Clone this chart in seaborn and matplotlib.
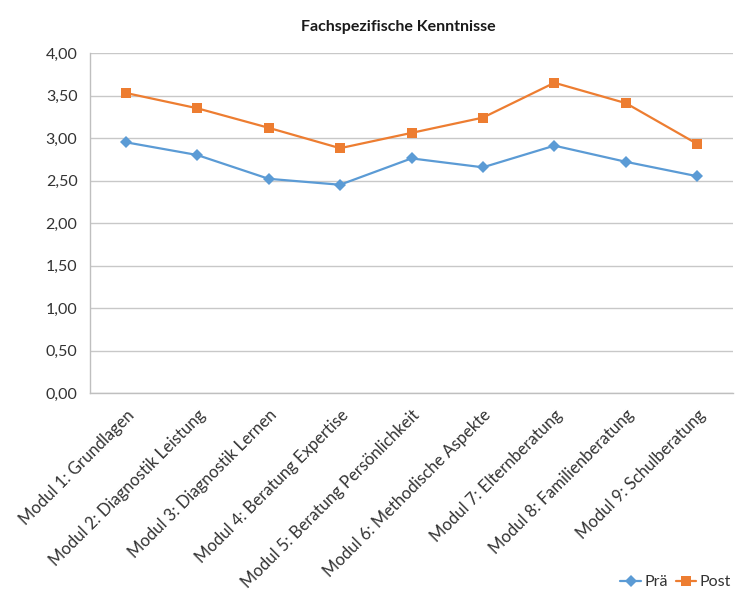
import numpy as np
import pandas as pd
import matplotlib
matplotlib.use("Agg")
import matplotlib.pyplot as plt
from matplotlib.ticker import FixedLocator, FuncFormatter, MultipleLocator
from matplotlib.lines import Line2D
import seaborn as sns

categories = [
    "Modul 1: Grundlagen",
    "Modul 2: Diagnostik Leistung",
    "Modul 3: Diagnostik Lernen",
    "Modul 4: Beratung Expertise",
    "Modul 5: Beratung Persönlichkeit",
    "Modul 6: Methodische Aspekte",
    "Modul 7: Elternberatung",
    "Modul 8: Familienberatung",
    "Modul 9: Schulberatung",
]
pre_values = [2.95, 2.80, 2.52, 2.45, 2.76, 2.655, 2.91, 2.72, 2.55]
post_values = [3.53, 3.35, 3.12, 2.88, 3.06, 3.24, 3.65, 3.41, 2.93]
series_names = ["Prä", "Post"]
title = "Fachspezifische Kenntnisse"

df = pd.DataFrame({
    "Modul": categories * 2,
    "Wert": pre_values + post_values,
    "Serie": [series_names[0]] * len(categories) + [series_names[1]] * len(categories),
})

sns.set_theme(style="white")
plt.rcParams["font.family"] = ["Lato", "DejaVu Sans"]

fig = plt.figure(figsize=(7.44, 5.92), dpi=100)
ax = fig.add_axes([90 / 744, 1 - 393 / 592, (733 - 90) / 744, (393 - 53) / 592])

sns.lineplot(
    data=df, x="Modul", y="Wert", hue="Serie", style="Serie",
    markers={"Prä": "D", "Post": "s"}, dashes=False,
    palette={"Prä": "#5B9BD5", "Post": "#ED7D31"},
    markersize=6.5, linewidth=1.6, markeredgewidth=0,
    sort=False, ax=ax, legend=False,
)

ax.set_xlim(-0.5, len(categories) - 0.5)
ax.set_ylim(0, 4.0)
ax.yaxis.set_major_locator(MultipleLocator(0.5))
ax.yaxis.set_major_formatter(FuncFormatter(lambda v, p: f"{v:.2f}".replace(".", ",")))
ax.grid(axis="y", color="#c8c8c8", linewidth=1.0)
ax.set_axisbelow(True)
for s in ["top", "right"]:
    ax.spines[s].set_visible(False)
for s in ["left", "bottom"]:
    ax.spines[s].set_color("#bfbfbf")
    ax.spines[s].set_linewidth(1.0)

ax.set_xticks(range(len(categories)))
ax.set_xticklabels(categories, rotation=45, ha="right", rotation_mode="anchor",
                   fontsize=12, color="#333333")
ax.tick_params(axis="x", which="major", length=0, pad=10)
ax.xaxis.set_minor_locator(FixedLocator(np.arange(-0.5, len(categories), 1.0)))
ax.tick_params(axis="x", which="minor", length=5, color="#bfbfbf", width=1)
ax.tick_params(axis="y", length=5, color="#bfbfbf", width=1, labelsize=11.5,
               labelcolor="#333333", pad=4)
ax.set_xlabel("")
ax.set_ylabel("")

fig.text(398 / 744, 1 - 27 / 592, title, ha="center", va="center",
         fontsize=11.5, fontweight="bold", color="#1a1a1a")

handles = [
    Line2D([], [], color="#5B9BD5", marker="D", markersize=6, markeredgewidth=0, linewidth=1.6),
    Line2D([], [], color="#ED7D31", marker="s", markersize=6.5, markeredgewidth=0, linewidth=1.6),
]
fig.legend(handles, series_names, loc="center right", bbox_to_anchor=(731 / 744, 1 - 582 / 592),
           ncol=2, frameon=False, fontsize=11.5, handlelength=1.3, handletextpad=0.2,
           columnspacing=0.5, labelcolor="#333333", borderaxespad=0, borderpad=0)

fig.savefig("out.png", dpi=100)
